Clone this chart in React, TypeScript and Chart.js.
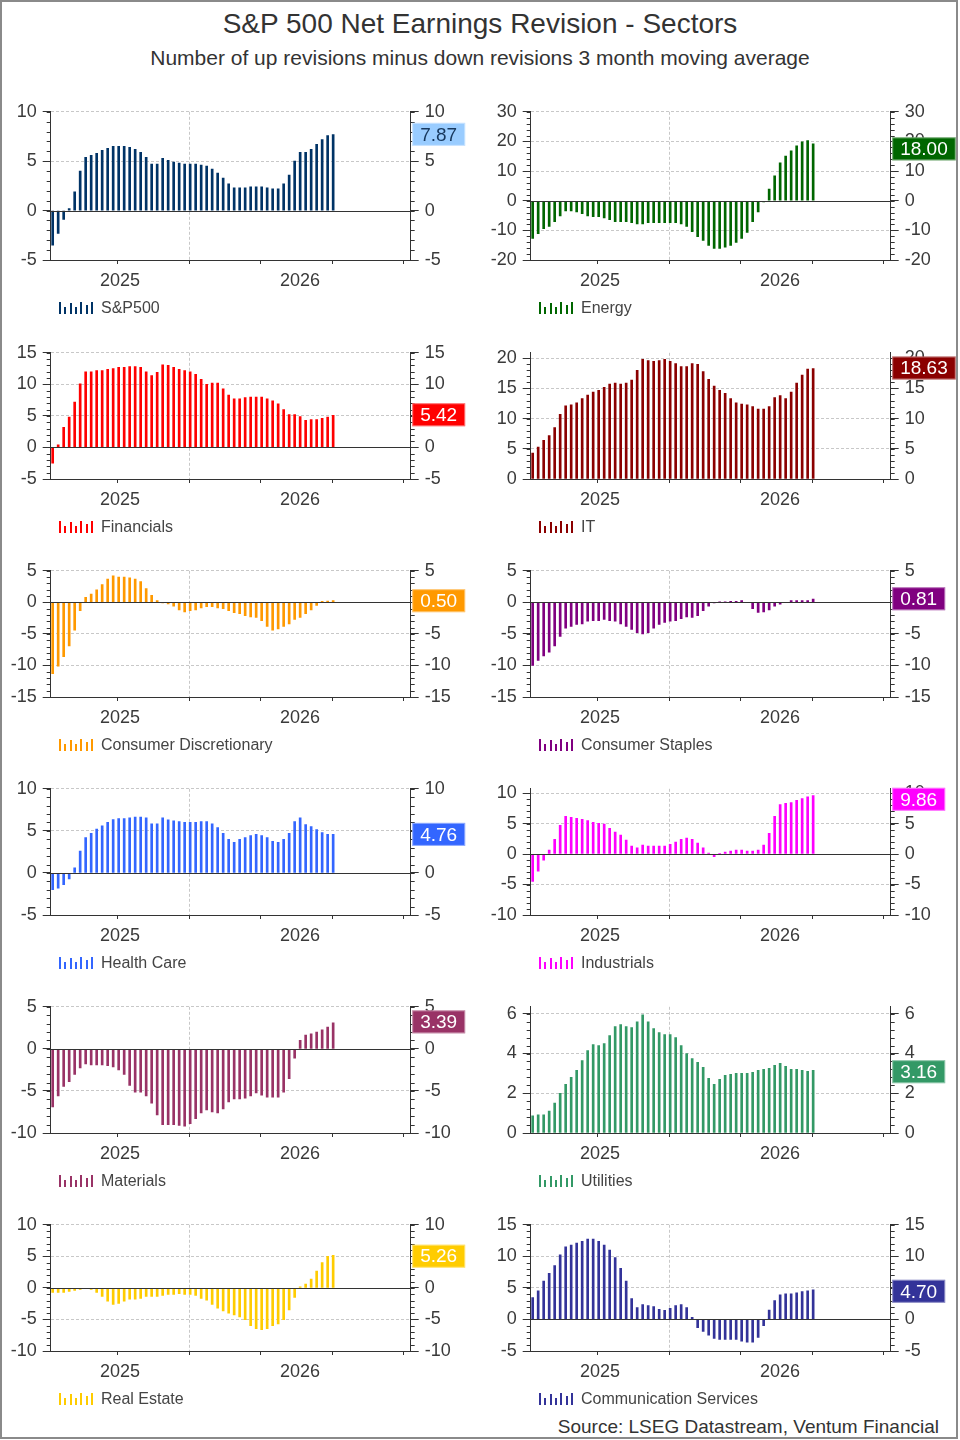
import React, { useEffect, useRef } from 'react';
import { Chart, registerables } from 'chart.js';

Chart.register(...registerables);

const FONT = "'Liberation Sans', Arial, Helvetica, sans-serif";
Chart.defaults.font.family = FONT;
Chart.defaults.color = '#3a3a3a';

// ---------- data ----------
const SECTORS = [
  'S&P500', 'Energy', 'Financials', 'IT', 'Consumer Discretionary', 'Consumer Staples',
  'Health Care', 'Industrials', 'Materials', 'Utilities', 'Real Estate', 'Communication Services',
];

const SP500 = [-3.5, -2.3, -0.9, 0.2, 1.9, 4.0, 5.4, 5.6, 5.8, 6.1, 6.3, 6.5, 6.5, 6.5, 6.4, 6.2, 5.9, 5.4, 4.7, 4.7, 5.3, 5.1, 4.9, 4.8, 4.7, 4.7, 4.7, 4.6, 4.5, 4.2, 3.8, 3.3, 2.7, 2.3, 2.3, 2.3, 2.4, 2.4, 2.4, 2.3, 2.2, 2.2, 2.7, 3.6, 5.0, 5.9, 5.9, 6.2, 6.7, 7.2, 7.6, 7.7];
const ENERGY = [-12.7, -11.1, -9.4, -8.7, -7.1, -5.1, -3.4, -3.4, -3.8, -4.4, -5.1, -5.4, -5.4, -5.8, -6.4, -7.1, -7.1, -7.1, -7.4, -7.8, -7.8, -7.4, -7.4, -7.4, -7.4, -7.4, -7.4, -7.8, -8.7, -10.4, -12.1, -13.4, -15.1, -16.1, -16.1, -15.7, -15.1, -14.1, -12.7, -10.7, -7.1, -3.8, -0.4, 3.9, 8.4, 12.8, 15.1, 16.8, 18.5, 19.9, 20.3, 19.2];
const FINANCIALS = [-2.5, 0.4, 3.2, 4.8, 7.2, 10.1, 12.0, 12.0, 12.2, 12.2, 12.4, 12.5, 12.7, 12.7, 12.8, 12.8, 12.7, 12.0, 11.4, 11.9, 13.1, 13.0, 12.7, 12.4, 12.2, 12.0, 11.6, 10.8, 10.0, 10.2, 10.2, 9.3, 8.3, 7.7, 7.7, 7.9, 8.0, 8.0, 8.0, 7.7, 7.4, 6.9, 6.0, 5.2, 5.2, 4.9, 4.3, 4.4, 4.4, 4.6, 4.8, 5.1];
const IT = [4.3, 5.3, 6.4, 7.2, 8.5, 10.7, 12.1, 12.3, 12.6, 13.3, 13.9, 14.4, 14.7, 15.2, 15.7, 15.9, 15.7, 15.9, 16.4, 18.0, 19.8, 19.6, 19.5, 19.6, 19.8, 19.5, 19.1, 18.6, 18.6, 19.1, 19.0, 17.8, 16.5, 15.4, 14.7, 14.2, 13.3, 12.6, 12.4, 12.3, 12.0, 11.6, 11.6, 12.0, 13.5, 13.8, 13.3, 14.4, 15.9, 17.2, 18.2, 18.3];
const CONS_DISC = [-11.3, -10.1, -8.6, -6.9, -4.4, -1.3, 0.8, 1.3, 2.0, 2.8, 3.7, 4.2, 4.0, 4.0, 3.9, 3.7, 3.3, 2.2, 1.1, 0.3, -0.1, -0.25, -0.6, -1.2, -1.5, -1.3, -1.2, -0.9, -0.7, -0.7, -0.9, -1.0, -1.3, -1.65, -1.8, -2.1, -2.3, -2.4, -2.9, -3.8, -4.4, -4.2, -3.8, -3.4, -2.7, -2.4, -1.8, -1.2, -0.5, 0.15, 0.2, 0.3];
const CONS_STAP = [-10.0, -9.2, -8.5, -7.9, -6.9, -5.4, -4.1, -3.8, -3.5, -3.4, -3.0, -2.9, -2.9, -2.7, -2.9, -3.0, -3.4, -3.8, -4.3, -4.8, -5.0, -4.8, -4.1, -3.5, -3.2, -3.0, -2.9, -2.6, -2.3, -2.4, -2.1, -1.3, -0.6, -0.05, 0.05, 0.05, 0.15, 0.15, 0.3, 0, -1.0, -1.6, -1.5, -1.2, -0.6, -0.3, 0, 0.3, 0.3, 0.3, 0.3, 0.5];
const HEALTH = [-2.0, -1.8, -1.4, -0.7, 0.6, 2.6, 4.2, 4.7, 5.2, 5.6, 6.0, 6.35, 6.45, 6.45, 6.55, 6.65, 6.65, 6.55, 5.85, 5.85, 6.55, 6.3, 6.2, 6.1, 6.0, 6.0, 6.0, 6.1, 6.1, 5.85, 5.4, 4.7, 4.0, 3.65, 4.0, 4.2, 4.45, 4.6, 4.45, 4.2, 3.75, 3.65, 4.0, 4.7, 6.1, 6.55, 5.75, 5.5, 5.15, 4.8, 4.6, 4.6];
const INDUSTRIALS = [-4.5, -2.8, -1.0, 0.65, 2.4, 4.7, 6.2, 6.0, 5.85, 5.7, 5.5, 5.2, 5.05, 4.9, 4.2, 3.6, 3.1, 2.3, 1.3, 1.0, 1.45, 1.3, 1.3, 1.3, 1.3, 1.6, 1.95, 2.4, 2.6, 2.4, 1.8, 1.0, 0.15, -0.45, 0.05, 0.3, 0.5, 0.65, 0.65, 0.5, 0.5, 0.65, 1.45, 3.4, 6.2, 8.1, 8.3, 8.45, 8.8, 9.1, 9.4, 9.6];
const MATERIALS = [-6.9, -5.6, -4.45, -3.9, -3.05, -2.25, -1.8, -1.9, -1.9, -1.9, -2.0, -2.15, -2.5, -3.05, -4.35, -5.15, -5.15, -5.6, -6.45, -7.85, -9.0, -9.0, -9.0, -9.1, -9.2, -8.9, -8.3, -7.6, -7.25, -7.5, -7.6, -7.15, -6.3, -5.95, -5.95, -5.85, -5.6, -5.25, -5.5, -5.75, -5.75, -5.75, -5.15, -3.55, -1.1, 1.0, 1.65, 1.8, 2.0, 2.25, 2.6, 3.1];
const UTILITIES = [0.86, 0.91, 0.91, 1.1, 1.5, 2.0, 2.45, 2.8, 3.15, 3.65, 4.15, 4.45, 4.4, 4.5, 4.9, 5.35, 5.45, 5.35, 5.3, 5.6, 5.95, 5.6, 5.25, 5.05, 4.95, 4.95, 4.8, 4.4, 4.0, 3.75, 3.55, 3.3, 2.75, 2.45, 2.7, 2.9, 2.95, 3.0, 3.0, 3.0, 3.05, 3.15, 3.2, 3.25, 3.4, 3.5, 3.35, 3.2, 3.2, 3.15, 3.1, 3.15];
const REAL_ESTATE = [-0.7, -0.7, -0.7, -0.55, -0.4, -0.25, -0.05, -0.25, -0.7, -1.35, -2.1, -2.6, -2.45, -2.1, -1.8, -1.8, -1.65, -1.35, -1.35, -1.35, -1.2, -1.05, -1.05, -0.9, -1.05, -1.05, -1.2, -1.65, -1.95, -2.6, -3.2, -3.65, -4.0, -4.3, -4.6, -5.05, -6.0, -6.45, -6.6, -6.45, -6.0, -5.7, -5.05, -3.5, -1.5, 0.15, 0.6, 1.4, 2.65, 4.0, 5.0, 5.15];
const COMM_SERV = [3.45, 4.55, 6.1, 7.3, 8.55, 10.25, 11.5, 11.8, 12.1, 12.4, 12.75, 12.75, 12.4, 11.8, 11.0, 9.8, 8.1, 6.1, 3.3, 1.9, 2.35, 2.2, 2.05, 1.6, 1.45, 1.75, 2.2, 2.35, 1.9, 0.35, -1.3, -1.9, -2.5, -3.0, -3.15, -3.15, -3.15, -3.15, -3.45, -3.6, -3.6, -2.85, -1.0, 1.5, 3.0, 3.9, 4.05, 4.05, 4.2, 4.4, 4.55, 4.7];

const SERIES = [SP500, ENERGY, FINANCIALS, IT, CONS_DISC, CONS_STAP, HEALTH, INDUSTRIALS, MATERIALS, UTILITIES, REAL_ESTATE, COMM_SERV];
const LATEST = [7.87, 18.0, 5.42, 18.63, 0.5, 0.81, 4.76, 9.86, 3.39, 3.16, 5.26, 4.7];

const Y_MIN = [-5, -20, -5, 0, -15, -15, -5, -10, -10, 0, -10, -5];
const Y_MAX = [10, 30, 15, 20.9, 5, 5, 10, 10.7, 5, 6.35, 10, 15];
const Y_STEP = [5, 10, 5, 5, 5, 5, 5, 5, 5, 2, 5, 5];

const COLORS = ['#003366', '#006600', '#ff0000', '#8b0000', '#ff9900', '#800080', '#3366ff', '#ff00ff', '#993366', '#339966', '#ffcc00', '#333399'];
const BOX_FILL = ['#99ccff', '#006600', '#ff0000', '#8b0000', '#ff9900', '#800080', '#3366ff', '#ff00ff', '#993366', '#339966', '#ffcc00', '#333399'];
const BOX_TEXT = ['#17385e', '#ffffff', '#ffffff', '#ffffff', '#ffffff', '#ffffff', '#ffffff', '#ffffff', '#ffffff', '#ffffff', '#ffffff', '#ffffff'];

// x axis in weeks from first observation
const X_MIN = -0.36;
const X_MAX = 65.1;
const QUARTER_TICKS = [11.8, 24.85, 37.8, 50.8, 63.8];
const YEAR_BOUNDARY = 24.85;
const YEAR_LABELS = ['2025', '2026'];
const YEAR_MIDS = [(X_MIN + YEAR_BOUNDARY) / 2, (YEAR_BOUNDARY + X_MAX) / 2];
const X_TICKS = [...QUARTER_TICKS, ...YEAR_MIDS].sort((a, b) => a - b);

const GRID = '#c8c8c8';
const AXIS = '#333333';
const PAD_TOP = 14;

// ---------- plugin ----------
const decorPlugin = {
  id: 'decor',
  afterDatasetsDraw(chart: any) {
    const y = chart.scales.y;
    const a = chart.chartArea;
    const ctx = chart.ctx;
    if (y.min < 0 && y.max > 0) {
      const py = Math.round(y.getPixelForValue(0)) + 0.5;
      ctx.save();
      ctx.strokeStyle = AXIS;
      ctx.lineWidth = 1;
      ctx.beginPath();
      ctx.moveTo(a.left, py);
      ctx.lineTo(a.right, py);
      ctx.stroke();
      ctx.restore();
    }
  },
  afterDraw(chart: any, _args: any, opts: any) {
    const ctx = chart.ctx;
    const a = chart.chartArea;
    const y = chart.scales.y;
    // minor ticks
    const ms = opts.minorStep;
    ctx.save();
    ctx.strokeStyle = AXIS;
    ctx.lineWidth = 1;
    const k0 = Math.ceil(y.min / ms - 1e-6);
    const k1 = Math.floor(y.max / ms + 1e-6);
    ctx.beginPath();
    for (let k = k0; k <= k1; k++) {
      const py = Math.round(y.getPixelForValue(k * ms)) + 0.5;
      ctx.moveTo(a.left - 4, py);
      ctx.lineTo(a.left, py);
      ctx.moveTo(a.right, py);
      ctx.lineTo(a.right + 4, py);
    }
    ctx.stroke();
    ctx.restore();

    // legend
    const ds = chart.data.datasets[0];
    const base = a.bottom + 54;
    const heights = [12, 7, 11, 7, 12, 9, 12];
    ctx.save();
    ctx.fillStyle = ds.backgroundColor;
    heights.forEach((h, i) => {
      ctx.fillRect(Math.round(a.left + 8.3 + i * 5.3), base - h, 2, h);
    });
    ctx.fillStyle = '#444444';
    ctx.font = `16px ${FONT}`;
    ctx.textBaseline = 'middle';
    ctx.textAlign = 'left';
    ctx.fillText(ds.label, a.left + 50.3, a.bottom + 48.5);
    ctx.restore();

    // latest value box
    const txt = opts.latest.toFixed(2);
    ctx.save();
    ctx.font = `19px ${FONT}`;
    const w = ctx.measureText(txt).width + 16;
    const hBox = 23;
    const cy = Math.max(y.getPixelForValue(opts.latest) + 1.5, a.top + 10.5);
    const bx = a.right + 1.5;
    const by = cy - hBox / 2;
    ctx.fillStyle = opts.fill;
    ctx.fillRect(bx, by, w, hBox);
    ctx.strokeStyle = 'rgba(255,255,255,0.45)';
    ctx.lineWidth = 1;
    ctx.strokeRect(bx + 0.5, by + 0.5, w - 1, hBox - 1);
    ctx.fillStyle = opts.text;
    ctx.textAlign = 'center';
    ctx.textBaseline = 'middle';
    ctx.fillText(txt, bx + w / 2, cy + 1);
    ctx.restore();
  },
};

function buildConfig(idx: number): any {
  const min = Y_MIN[idx];
  const max = Y_MAX[idx];
  const step = Y_STEP[idx];
  const yTicks = { stepSize: step, includeBounds: false, padding: 6, color: '#3a3a3a', font: { size: 18 } };
  return {
    type: 'bar',
    data: {
      datasets: [
        {
          label: SECTORS[idx],
          data: SERIES[idx].map((v, i) => ({ x: i, y: v })),
          backgroundColor: COLORS[idx],
          borderWidth: 0,
          barThickness: 2,
        },
      ],
    },
    options: {
      animation: false,
      responsive: false,
      maintainAspectRatio: false,
      layout: { padding: { top: PAD_TOP, bottom: 28, left: 0, right: 0 } },
      plugins: {
        legend: { display: false },
        tooltip: { enabled: false },
        decor: { minorStep: step / 5, latest: LATEST[idx], fill: BOX_FILL[idx], text: BOX_TEXT[idx] },
      },
      scales: {
        x: {
          type: 'linear',
          min: X_MIN,
          max: X_MAX,
          offset: false,
          afterBuildTicks: (s: any) => {
            s.ticks = X_TICKS.map((v) => ({ value: v }));
          },
          afterFit: (s: any) => {
            s.height = 34;
          },
          ticks: {
            autoSkip: false,
            maxRotation: 0,
            minRotation: 0,
            padding: 6,
            color: '#3a3a3a',
            font: { size: 18 },
            callback: (v: number) => {
              const k = YEAR_MIDS.indexOf(v);
              return k >= 0 ? YEAR_LABELS[k] : '';
            },
          },
          grid: {
            offset: false,
            lineWidth: 1,
            tickLength: 4,
            color: (c: any) => (c.tick && c.tick.value === YEAR_BOUNDARY ? GRID : 'rgba(0,0,0,0)'),
            tickColor: (c: any) => (c.tick && YEAR_MIDS.indexOf(c.tick.value) >= 0 ? 'rgba(0,0,0,0)' : AXIS),
          },
          border: { color: AXIS, width: 1, dash: [3, 2] },
        },
        y: {
          type: 'linear',
          position: 'left',
          min,
          max,
          ticks: yTicks,
          afterFit: (s: any) => {
            s.width = 50.7;
          },
          grid: {
            lineWidth: 1,
            tickLength: 8,
            tickColor: AXIS,
            color: (c: any) => {
              const v = c.tick ? c.tick.value : null;
              return v === 0 || v === min ? 'rgba(0,0,0,0)' : GRID;
            },
          },
          border: { color: AXIS, width: 1, dash: [3, 2] },
        },
        y2: {
          type: 'linear',
          position: 'right',
          min,
          max,
          ticks: yTicks,
          afterFit: (s: any) => {
            s.width = 69.3;
          },
          grid: { drawOnChartArea: false, lineWidth: 1, tickLength: 8, tickColor: AXIS },
          border: { color: AXIS, width: 1 },
        },
      },
    },
    plugins: [decorPlugin],
  };
}

function Panel({ idx }: { idx: number }) {
  const ref = useRef<HTMLCanvasElement | null>(null);
  const row = Math.floor(idx / 2);
  const col = idx % 2;
  const plotTop = row === 0 ? 109 : 349.7 + 218 * (row - 1);
  const plotH = row === 0 ? 151 : 129;
  const top = Math.round(plotTop - PAD_TOP);
  const h = PAD_TOP + plotH + 62;
  useEffect(() => {
    const chart = new Chart(ref.current as HTMLCanvasElement, buildConfig(idx));
    return () => chart.destroy();
  }, [idx]);
  return (
    <canvas
      ref={ref}
      width={480}
      height={h}
      style={{ position: 'absolute', left: col * 480, top, width: 480, height: h, display: 'block' }}
    />
  );
}

export default function App() {
  return (
    <div
      style={{
        position: 'absolute',
        left: 0,
        top: 0,
        width: 960,
        height: 1440,
        background: '#ffffff',
        fontFamily: FONT,
        overflow: 'hidden',
      }}
    >
      <div
        style={{
          position: 'absolute',
          left: 0,
          top: 0,
          width: 958,
          height: 1439,
          border: '2px solid #8a8a8a',
          boxSizing: 'border-box',
        }}
      />
      <div
        style={{
          position: 'absolute',
          left: 0,
          top: 8,
          width: 960,
          textAlign: 'center',
          fontSize: 28,
          lineHeight: '32px',
          color: '#333333',
        }}
      >
        S&amp;P 500 Net Earnings Revision - Sectors
      </div>
      <div
        style={{
          position: 'absolute',
          left: 0,
          top: 45,
          width: 960,
          textAlign: 'center',
          fontSize: 21,
          lineHeight: '26px',
          color: '#333333',
        }}
      >
        Number of up revisions minus down revisions 3 month moving average
      </div>
      {SERIES.map((_, i) => (
        <Panel key={i} idx={i} />
      ))}
      <div
        style={{
          position: 'absolute',
          left: 0,
          top: 1416,
          width: 939,
          textAlign: 'right',
          fontSize: 19,
          lineHeight: '22px',
          color: '#333333',
        }}
      >
        Source: LSEG Datastream, Ventum Financial
      </div>
    </div>
  );
}
